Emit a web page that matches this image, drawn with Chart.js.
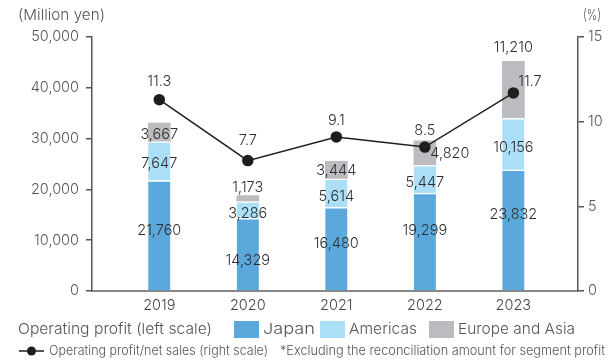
<!DOCTYPE html>
<html>
<head>
<meta charset="utf-8">
<script src="https://cdn.jsdelivr.net/npm/chart.js@4/dist/chart.umd.min.js"></script>
<style>
  html, body { margin: 0; padding: 0; background: #fff; }
  #wrap { width: 610px; height: 360px; }
</style>
</head>
<body>
<div id="wrap"><canvas id="c" width="610" height="360"></canvas></div>
<script>
// Operating profit by segment (million yen) and operating profit / net sales (%)
const years = ['2019', '2020', '2021', '2022', '2023'];
const japan = [21760, 14329, 16480, 19299, 23832];
const americas = [7647, 3286, 5614, 5447, 10156];
const europeAsia = [3667, 1173, 3444, 4820, 11210];
const profitRatio = [11.3, 7.7, 9.1, 8.5, 11.7];
const leftTicks = [0, 10000, 20000, 30000, 40000, 50000];
const rightTicks = [0, 5, 10, 15];

const FONT = 'Inter, "Noto Sans", sans-serif';
const WEIGHT = 300;
const COLORS = { japan: '#5ba8dc', americas: '#abdff8', europe: '#bbbcc0', line: '#1e1e1e' };

const fmt = v => v.toLocaleString('en-US');
const pts = arr => arr.map((v, i) => ({ x: i, y: v }));
const font = size => `${WEIGHT} ${size}px ${FONT}`;

// draw text squeezed/stretched to a given width
function fitText(ctx, text, x, y, width, f, color) {
  ctx.save();
  ctx.font = f;
  ctx.fillStyle = color;
  ctx.textAlign = 'left';
  ctx.textBaseline = 'middle';
  const w = ctx.measureText(text).width;
  ctx.translate(x, y);
  ctx.scale(width / w, 1);
  ctx.fillText(text, 0, 0);
  ctx.restore();
}

// value labels on bar segments and line points
const valueLabels = {
  id: 'valueLabels',
  afterDatasetsDraw(chart, args, opts) {
    const ctx = chart.ctx;
    ctx.save();
    ctx.font = font(14.5);
    ctx.fillStyle = '#2e2e2e';
    ctx.textAlign = 'center';
    ctx.textBaseline = 'middle';
    chart.data.datasets.forEach((ds, di) => {
      const meta = chart.getDatasetMeta(di);
      meta.data.forEach((el, i) => {
        const raw = ds.data[i].y;
        if (ds.type === 'line') {
          const n = opts.lineNudge[i];
          ctx.fillText(raw.toFixed(1), el.x + n[0], el.y + n[1]);
        } else {
          const n = opts.barNudge[di][i];
          let y;
          if (n.above) {
            y = Math.min(el.y, el.base) - n.above;
          } else {
            y = (el.y + el.base) / 2 + n[1];
          }
          const dx = n.above ? 0 : n[0];
          ctx.fillText(fmt(raw), el.x + dx, y);
        }
      });
    });
    ctx.restore();
  }
};

// axis unit titles and the legend rows
const annotations = {
  id: 'annotations',
  afterDraw(chart) {
    const ctx = chart.ctx;
    const grey = '#555';
    fitText(ctx, '(Million yen)', 18, 15, 87, font(15), grey);
    fitText(ctx, '(%)', 583, 15, 18, font(15), grey);

    // row 1: bar segment legend
    fitText(ctx, 'Operating profit (left scale)', 18, 329, 194, font(15), grey);
    const items = [
      { c: COLORS.japan, t: 'Japan', bx: 234, tx: 263, tw: 52 },
      { c: COLORS.americas, t: 'Americas', bx: 320, tx: 349, tw: 68 },
      { c: COLORS.europe, t: 'Europe and Asia', bx: 429, tx: 458, tw: 117 }
    ];
    items.forEach(it => {
      ctx.fillStyle = it.c;
      ctx.fillRect(it.bx, 321, 25, 17);
      fitText(ctx, it.t, it.tx, 329, it.tw, font(15), grey);
    });

    // row 2: line legend and footnote
    ctx.save();
    ctx.strokeStyle = COLORS.line;
    ctx.lineWidth = 1.5;
    ctx.beginPath();
    ctx.moveTo(19, 351);
    ctx.lineTo(44, 351);
    ctx.stroke();
    ctx.fillStyle = COLORS.line;
    ctx.beginPath();
    ctx.arc(31.5, 351, 4.5, 0, Math.PI * 2);
    ctx.fill();
    ctx.restore();
    fitText(ctx, 'Operating profit/net sales (right scale)', 49, 351, 219, font(13), grey);
    fitText(ctx, '*Excluding the reconciliation amount for segment profit', 280, 351, 325, font(13), grey);
  }
};

const axisLine = '#555';
const tickFont = { family: FONT, size: 14.5, weight: WEIGHT };

new Chart(document.getElementById('c'), {
  type: 'bar',
  data: {
    datasets: [
      {
        type: 'line', label: 'Operating profit/net sales', data: pts(profitRatio), yAxisID: 'y1',
        borderColor: COLORS.line, backgroundColor: COLORS.line, borderWidth: 1.5,
        pointRadius: 5, pointHoverRadius: 5, tension: 0, order: 0
      },
      {
        label: 'Japan', data: pts(japan), backgroundColor: COLORS.japan,
        borderColor: '#fff', borderWidth: { top: 1.5, left: 0, right: 0, bottom: 0 },
        borderSkipped: 'start', barThickness: 22, order: 1
      },
      {
        label: 'Americas', data: pts(americas), backgroundColor: COLORS.americas,
        borderColor: '#fff', borderWidth: { top: 1.5, left: 0, right: 0, bottom: 0 },
        borderSkipped: 'start', barThickness: 22, order: 1
      },
      {
        label: 'Europe and Asia', data: pts(europeAsia), backgroundColor: COLORS.europe,
        borderColor: '#fff', borderWidth: 0,
        borderSkipped: 'start', barThickness: 22, order: 1
      }
    ]
  },
  options: {
    responsive: false,
    animation: false,
    events: [],
    layout: { padding: { top: 37, left: 0, right: 0, bottom: 0 } },
    plugins: {
      legend: { display: false },
      tooltip: { enabled: false },
      valueLabels: {
        barNudge: [
          null,
          [[0, -5], [0, 6], [0, -5], [0, -11], [0, -15]],
          [[0, 3], [0, 3.5], [0, 3.5], [0, 4], [0, 3.5]],
          [[0, 2], { above: 8 }, [0, 0.5], [25, 0.5], { above: 14 }]
        ],
        lineNudge: [[0, -18.5], [0, -20], [0, -16.5], [0, -16.5], [16.5, -11]]
      }
    },
    scales: {
      x: {
        type: 'linear', min: -0.76, max: 4.73, offset: false, stacked: true,
        afterBuildTicks: s => { s.ticks = years.map((_, i) => ({ value: i })); },
        afterFit: s => { s.height = 69; },
        ticks: {
          callback: v => years[v] ?? '', color: '#444', padding: 6,
          font: tickFont, maxRotation: 0, autoSkip: false
        },
        grid: { display: true, drawOnChartArea: false, drawTicks: false },
        border: { display: true, color: '#888', width: 2 }
      },
      y: {
        position: 'left', min: 0, max: 50000, stacked: true,
        afterBuildTicks: s => { s.ticks = leftTicks.map(v => ({ value: v })); },
        afterFit: s => { s.width = 92; },
        ticks: { callback: v => fmt(v), color: '#555', padding: 7, font: tickFont },
        grid: { drawOnChartArea: false, tickLength: 6, color: axisLine, lineWidth: 1.5 },
        border: { display: true, color: axisLine, width: 1.5 }
      },
      y1: {
        position: 'right', min: 0, max: 15, stacked: false,
        afterBuildTicks: s => { s.ticks = rightTicks.map(v => ({ value: v })); },
        afterFit: s => { s.width = 32; },
        ticks: { color: '#555', padding: 4, font: tickFont },
        grid: { drawOnChartArea: false, tickLength: 6, color: axisLine, lineWidth: 1.5 },
        border: { display: true, color: axisLine, width: 1.5 }
      }
    }
  },
  plugins: [valueLabels, annotations]
});
</script>
</body>
</html>
